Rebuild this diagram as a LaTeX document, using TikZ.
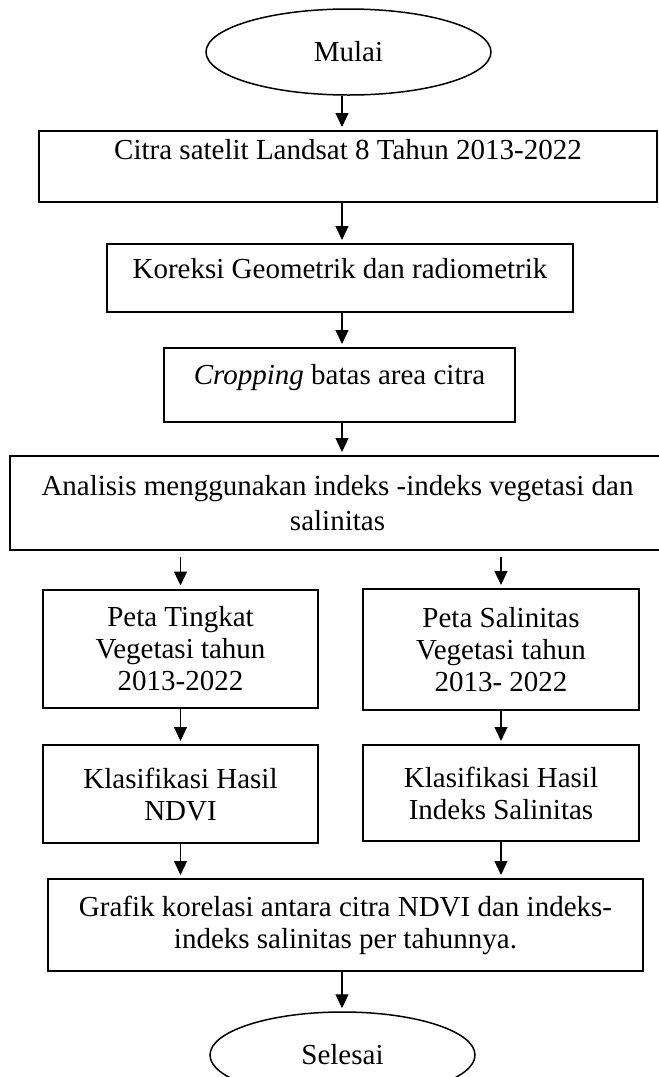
\documentclass[tikz,border=0pt]{standalone}
\usepackage{fontspec}
\setmainfont{Liberation Serif}
\usetikzlibrary{shapes.geometric, arrows.meta}

\begin{document}
\begin{tikzpicture}[x=0.5pt, y=-0.5pt,
  every node/.style={font=\fontsize{14.5}{16}\selectfont, inner sep=0pt},
  terminal/.style={draw, ellipse, line width=0.75pt},
  stepbox/.style={draw, rectangle, line width=1pt, align=center},
  arr/.style={-{Triangle[length=7pt, width=6.5pt]}, line width=0.6pt, shorten >=1.5pt}]
\useasboundingbox (0,0) rectangle (659,1077);
\coordinate (axis) at (342,0);

% Start
\node[terminal, minimum width=142.5pt, minimum height=43pt] (mulai) at (348.5,52) {Mulai};

% Preprocessing chain
\node[stepbox, minimum width=309pt, minimum height=35.5pt, text height=8pt, text depth=15.5pt] (citra) at (348,166.5) {Citra satelit Landsat 8 Tahun 2013-2022};
\node[stepbox, minimum width=233pt, minimum height=34pt, text height=8pt, text depth=8pt] (koreksi) at (340,278) {Koreksi Geometrik dan radiometrik};
\node[stepbox, minimum width=175.5pt, minimum height=37pt, text height=8pt, text depth=9pt] (crop) at (339.5,385) {\textit{Cropping} batas area citra};
\node[stepbox, minimum width=327.5pt, minimum height=47pt, font=\fontsize{14.5}{17.5}\selectfont] (analisis) at (337.5,503) {Analisis menggunakan indeks -indeks vegetasi dan\\salinitas};

% Two branches
\node[stepbox, minimum width=137.5pt, minimum height=59pt] (peta1) at (180.5,648.5) {Peta Tingkat\\Vegetasi tahun\\2013-2022};
\node[stepbox, minimum width=138pt, minimum height=60.5pt] (peta2) at (501,649.5) {Peta Salinitas\\Vegetasi tahun\\2013- 2022};
\node[stepbox, minimum width=137.5pt, minimum height=49pt] (klas1) at (180.5,794) {Klasifikasi Hasil\\NDVI};
\node[stepbox, minimum width=138pt, minimum height=48pt] (klas2) at (501,793) {Klasifikasi Hasil\\Indeks Salinitas};

% Merge and end
\node[stepbox, minimum width=297.5pt, minimum height=46pt] (grafik) at (345.5,925) {Grafik korelasi antara citra NDVI dan indeks-\\indeks salinitas per tahunnya.};
\node[terminal, minimum width=132.5pt, minimum height=43pt] (selesai) at (342.5,1055) {Selesai};

% Arrows, main column
\draw[arr] (mulai.south -| axis) -- (citra.north -| axis);
\draw[arr] (citra.south -| axis) -- (koreksi.north -| axis);
\draw[arr] (koreksi.south -| axis) -- (crop.north -| axis);
\draw[arr] (crop.south -| axis) -- (analisis.north -| axis);

% Arrows, branches
\draw[arr, shorten <=3pt] (analisis.south -| peta1.north) -- (peta1.north);
\draw[arr, shorten <=3pt] (analisis.south -| peta2.north) -- (peta2.north);
\draw[arr] (peta1.south) -- (klas1.north);
\draw[arr] (peta2.south) -- (klas2.north);
\draw[arr] (klas1.south) -- (klas1.south |- grafik.north);
\draw[arr] (klas2.south) -- (klas2.south |- grafik.north);
\draw[arr] (grafik.south -| axis) -- (selesai.north -| axis);
\end{tikzpicture}
\end{document}
